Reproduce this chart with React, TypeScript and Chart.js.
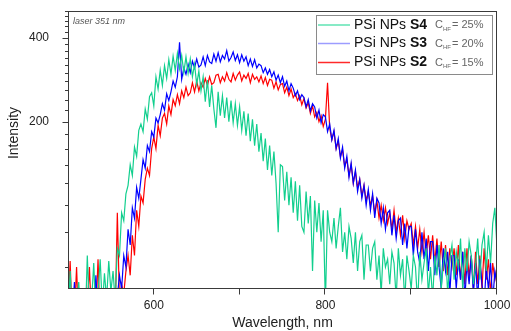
import React, { useEffect, useRef } from 'react';
import { Chart, registerables } from 'chart.js';

Chart.register(...registerables);

// Sampling grid (nm)
const WL_START = 500;
const WL_STEP = 2.5;

// PSi NPs S4 (green), 500..1000 nm, step 2.5 nm
const S4_VALUES = [
  38, 58, 40, 36, 44, 53, 39, 42, 37, 66,
  41, 45, 62, 40, 48, 64, 43, 57, 46, 63,
  49, 58, 45, 70, 66, 94, 88, 110, 118, 140,
  128, 162, 150, 186, 196, 184, 222, 204, 246, 254,
  228, 290, 262, 306, 270, 318, 286, 334, 296, 344,
  306, 352, 310, 346, 300, 342, 298, 336, 290, 322,
  272, 304, 258, 290, 236, 282, 226, 270, 222, 190,
  256, 210, 248, 206, 244, 200, 238, 198, 232, 194,
  226, 186, 218, 178, 214, 170, 204, 164, 196, 156,
  182, 144, 174, 134, 164, 128, 156, 120, 80, 140,
  138, 104, 132, 100, 126, 94, 122, 88, 118, 84,
  80, 112, 86, 108, 58, 104, 80, 102, 74, 96,
  44, 96, 80, 74, 90, 70, 84, 98, 68, 80,
  64, 84, 76, 62, 80, 58, 74, 78, 54, 72,
  72, 58, 70, 74, 54, 66, 48, 70, 60, 64,
  52, 68, 62, 46, 70, 56, 64, 45, 66, 58,
  50, 66, 60, 44, 68, 54, 62, 70, 48, 60,
  46, 66, 56, 72, 50, 62, 70, 48, 64, 72,
  54, 68, 60, 76, 50, 70, 58, 74, 66, 52,
  60, 76, 54, 72, 80, 58, 78, 62, 86, 98,
  70,
];

// PSi NPs S3 (blue)
const S3_VALUES = [
  36, 34, 40, 53, 38, 35, 41, 37, 34, 39,
  36, 42, 38, 56, 40, 37, 43, 39, 45, 41,
  38, 44, 40, 47, 56, 50, 66, 60, 82, 72,
  98, 90, 116, 106, 124, 146, 136, 164, 156, 184,
  176, 206, 198, 212, 232, 220, 252, 238, 256, 280,
  266, 290, 386, 284, 312, 296, 322, 300, 330, 312,
  336, 314, 320, 342, 318, 346, 328, 324, 350, 330,
  354, 328, 346, 336, 360, 330, 340, 356, 332, 348,
  326, 348, 330, 342, 318, 336, 316, 334, 312, 322,
  318, 300, 312, 296, 308, 290, 302, 282, 294, 276,
  290, 268, 280, 258, 274, 264, 248, 258, 240, 250,
  244, 226, 240, 218, 232, 226, 206, 220, 198, 212,
  208, 184, 196, 172, 186, 160, 174, 148, 162, 136,
  150, 126, 142, 120, 134, 112, 124, 106, 118, 100,
  114, 96, 110, 90, 106, 102, 86, 98, 82, 94,
  96, 78, 92, 76, 88, 90, 72, 86, 70, 84,
  84, 66, 82, 68, 62, 80, 64, 76, 58, 74,
  74, 56, 72, 60, 50, 70, 58, 68, 48, 66,
  66, 50, 64, 54, 68, 46, 62, 52, 66, 48,
  62, 46, 64, 52, 44, 60, 50, 62, 45, 58,
  52,
];

// PSi NPs S2 (red)
const S2_VALUES = [
  42, 63, 38, 40, 60, 36, 41, 37, 39, 44,
  60, 38, 42, 40, 64, 37, 43, 39, 41, 38,
  44, 46, 40, 94, 45, 52, 48, 58, 66, 56,
  78, 66, 96, 84, 108, 102, 124, 136, 128, 160,
  176, 160, 194, 178, 206, 214, 196, 228, 212, 240,
  228, 250, 232, 258, 244, 266, 248, 254, 276, 256,
  280, 258, 276, 266, 286, 270, 290, 272, 276, 294,
  296, 276, 290, 280, 300, 284, 278, 298, 282, 294,
  302, 280, 294, 286, 298, 276, 296, 284, 290, 278,
  292, 274, 288, 270, 284, 282, 264, 278, 260, 272,
  274, 254, 266, 248, 262, 244, 252, 238, 248, 230,
  242, 224, 234, 214, 228, 208, 216, 200, 210, 192,
  204, 276, 190, 172, 184, 160, 170, 150, 158, 138,
  146, 128, 140, 120, 132, 116, 124, 108, 118, 104,
  112, 100, 108, 94, 104, 90, 100, 88, 98, 86,
  94, 82, 96, 80, 90, 78, 92, 76, 88, 82,
  86, 72, 84, 70, 82, 68, 80, 66, 78, 64,
  78, 62, 76, 60, 74, 58, 72, 56, 70, 60,
  70, 56, 72, 54, 68, 52, 70, 55, 66, 50,
  68, 52, 66, 50, 70, 54, 64, 48, 62, 54,
  60,
];

const X_TICKS = [600, 700, 800, 900, 1000];
const X_LABELED = [600, 800, 1000];
const Y_TICKS = [60, 80, 100, 120, 140, 160, 180, 200, 220, 240, 260, 280, 300, 320, 340, 360, 380, 400, 420, 440, 460, 480, 500];
const Y_LABELED = [200, 400];

const SERIES_NAMES = ['S4', 'S3', 'S2'];
const SERIES_CONC = ['25%', '20%', '15%'];
const SERIES_COLORS = ['#12cf8e', '#0000ff', '#ff0000'];
const LEGEND_COLORS = ['#5fe3b3', '#9c9cff', '#ff2a2a'];

const FONT = '"Liberation Sans", Arial, sans-serif';

const toPoints = (arr: number[]) => arr.map((y, i) => ({ x: WL_START + i * WL_STEP, y }));

const zeroPadding = (s: any) => {
  s.paddingTop = 0;
  s.paddingBottom = 0;
  s.paddingLeft = 0;
  s.paddingRight = 0;
};

const decorPlugin = {
  id: 'decor',
  afterDraw(chart: any) {
    const { ctx, chartArea: a, scales } = chart;
    const xs = scales.x;
    const ys = scales.y;
    ctx.save();
    // frame
    ctx.strokeStyle = '#3a3a3a';
    ctx.lineWidth = 1;
    ctx.strokeRect(a.left + 0.5, a.top + 0.5, a.right - a.left - 1, a.bottom - a.top - 1);
    // ticks
    ctx.beginPath();
    Y_TICKS.forEach((v) => {
      const py = Math.round(ys.getPixelForValue(v)) + 0.5;
      const len = Y_LABELED.includes(v) ? 6 : 3.5;
      ctx.moveTo(a.left + 0.5, py);
      ctx.lineTo(a.left + 0.5 - len, py);
    });
    X_TICKS.forEach((v) => {
      const px = Math.round(xs.getPixelForValue(v)) - 0.5;
      ctx.moveTo(px, a.bottom - 0.5);
      ctx.lineTo(px, a.bottom + 5.5);
    });
    ctx.stroke();

    // y axis title
    ctx.save();
    ctx.translate(14, 133);
    ctx.rotate(-Math.PI / 2);
    ctx.font = `14px ${FONT}`;
    ctx.fillStyle = '#222';
    ctx.textAlign = 'center';
    ctx.textBaseline = 'middle';
    ctx.fillText('Intensity', 0, 0);
    ctx.restore();

    // annotation
    ctx.font = `italic 9px ${FONT}`;
    ctx.fillStyle = '#555';
    ctx.textBaseline = 'middle';
    ctx.textAlign = 'left';
    ctx.fillText('laser 351 nm', a.left + 5, 21);

    // legend
    const bx = 316, by = 15, bw = 176, bh = 59;
    ctx.fillStyle = '#ffffff';
    ctx.fillRect(bx, by, bw, bh);
    ctx.strokeStyle = '#8a8a8a';
    ctx.lineWidth = 1;
    ctx.strokeRect(bx + 0.5, by + 0.5, bw, bh);
    const rows = [25, 43.5, 62.5];
    SERIES_NAMES.forEach((name, i) => {
      const y = rows[i];
      ctx.strokeStyle = LEGEND_COLORS[i];
      ctx.lineWidth = 1.5;
      ctx.beginPath();
      ctx.moveTo(318, y);
      ctx.lineTo(350, y);
      ctx.stroke();
      ctx.fillStyle = '#111';
      ctx.font = `14px ${FONT}`;
      ctx.fillText('PSi NPs ', 354, y);
      const w = ctx.measureText('PSi NPs ').width;
      ctx.font = `bold 14px ${FONT}`;
      ctx.fillText(name, 354 + w, y);
      ctx.fillStyle = '#666';
      ctx.font = `11px ${FONT}`;
      ctx.fillText('C', 435, y);
      ctx.font = `6px ${FONT}`;
      ctx.fillText('HF', 443, y + 4);
      ctx.font = `11px ${FONT}`;
      ctx.fillText('= ' + SERIES_CONC[i], 452, y);
    });
    ctx.restore();
  },
};

export default function App() {
  const ref = useRef<HTMLCanvasElement>(null);
  useEffect(() => {
    document.body.style.margin = '0';
    const canvas = ref.current;
    if (!canvas) return;
    const seriesValues = [S4_VALUES, S3_VALUES, S2_VALUES];
    const chart = new Chart(canvas, {
      type: 'line',
      data: {
        datasets: seriesValues.map((vals, i) => ({
          label: 'PSi NPs ' + SERIES_NAMES[i],
          data: toPoints(vals),
          borderColor: SERIES_COLORS[i],
          backgroundColor: SERIES_COLORS[i],
          borderWidth: 1.2,
          pointRadius: 0,
          tension: 0,
          fill: false,
        })),
      },
      options: {
        animation: false,
        responsive: false,
        maintainAspectRatio: false,
        layout: { autoPadding: false, padding: { top: 11, right: 14, left: 0, bottom: 0 } },
        plugins: { legend: { display: false }, tooltip: { enabled: false } },
        scales: {
          x: {
            type: 'linear',
            min: 500,
            max: 1000,
            afterBuildTicks: (s: any) => {
              s.ticks = X_TICKS.map((v) => ({ value: v }));
            },
            afterFit: (s: any) => {
              s.height = 42;
              zeroPadding(s);
            },
            grid: { display: false },
            border: { display: false },
            ticks: {
              autoSkip: false,
              maxRotation: 0,
              padding: 1,
              color: '#222',
              font: { family: FONT, size: 12 },
              callback: (v: any) => (X_LABELED.includes(Number(v)) ? String(v) : ''),
            },
            title: {
              display: true,
              text: 'Wavelength, nm',
              color: '#222',
              font: { family: FONT, size: 14 },
              padding: { top: 0, bottom: -1 },
            },
          },
          y: {
            type: 'logarithmic',
            min: 50,
            max: 500,
            afterBuildTicks: (s: any) => {
              s.ticks = Y_TICKS.map((v) => ({ value: v }));
            },
            afterFit: (s: any) => {
              s.width = 68;
              zeroPadding(s);
            },
            grid: { display: false },
            border: { display: false },
            ticks: {
              autoSkip: false,
              padding: 11,
              color: '#222',
              font: { family: FONT, size: 12 },
              callback: (v: any) => (Y_LABELED.includes(Number(v)) ? String(v) : ''),
            },
            title: { display: false },
          },
        },
      },
      plugins: [decorPlugin],
    });
    return () => chart.destroy();
  }, []);
  return (
    <div style={{ width: 511, height: 331 }}>
      <canvas ref={ref} width={511} height={331} style={{ display: 'block' }} />
    </div>
  );
}
